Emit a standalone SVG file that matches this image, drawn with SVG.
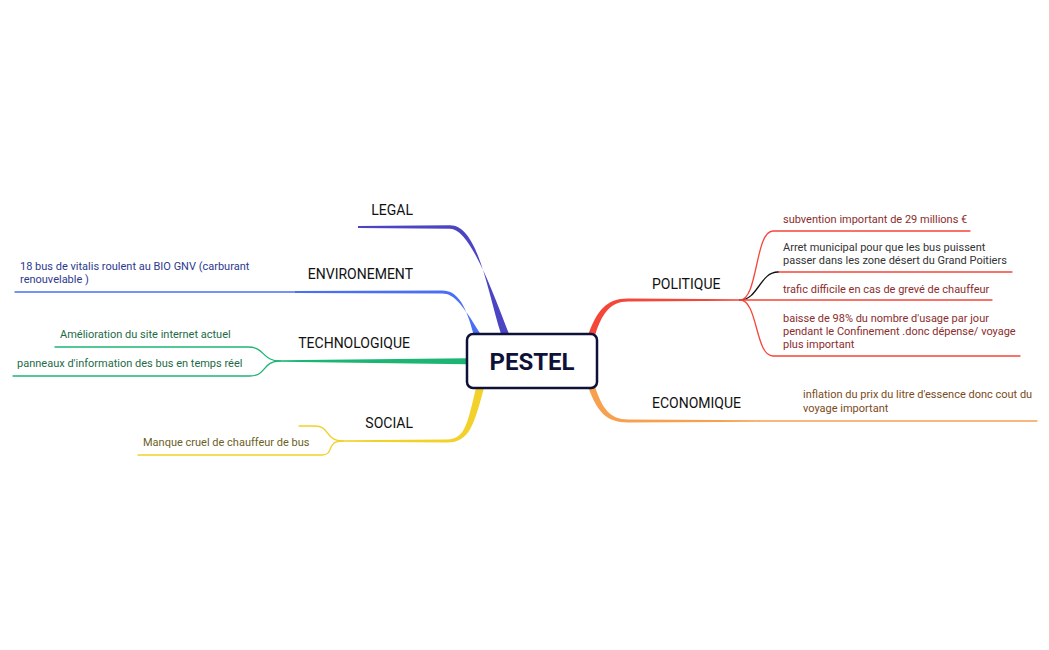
<svg xmlns="http://www.w3.org/2000/svg" width="1049" height="650" viewBox="0 0 1049 650">
<style>
.main{font-family:Roboto,"Liberation Sans",sans-serif;font-size:14px;font-weight:400;fill:#111111}
.sub{font-family:Roboto,"Liberation Sans",sans-serif;font-size:11px}
.thin{fill:none;stroke-width:1.3;stroke-linecap:round}
</style>
<rect width="1049" height="650" fill="#ffffff"/>
<g id="connectors">
  <path d="M501,334 C487,290 478,225.2 450,225.2 L358,226 L358,228 L450,228.8 C470,228.8 492,290 509,334 Z" fill="#4b44c3"/>
  <path d="M473.5,334 C466,306 458,290.5 442,290.5 L295,291.1 L295,292.9 L442,293.5 C455,293.5 463,306 480.5,334 Z" fill="#4a6ef5"/>
  <path class="thin" d="M295,292 L15,292" stroke="#4a6ef5"/>
  <path d="M467,358.3 L280,360.2 L280,361.8 L467,364.2 Z" fill="#1db574"/>
  <path class="thin" d="M280,361 C262,361 265,347 248,347 L55,347" stroke="#1db574"/>
  <path class="thin" d="M280,361 C262,361 267,376 250,376 L13,376" stroke="#1db574"/>
  <path d="M484,388 C474,424 470,442.5 447,442.5 L343,441.8 L343,440.2 L447,439.5 C466,439.5 468,420 476,388 Z" fill="#f2d12b"/>
  <path class="thin" d="M343,441 C325,441 330,426 315,426 L299,426" stroke="#f2d12b"/>
  <path class="thin" d="M343,441 C325,441 335,455 322,455 L138,455" stroke="#f2d12b"/>
  <path d="M588.5,334 C597,311 606,298.5 628,298.5 L740,299.3 L740,300.7 L628,301.5 C610,301.5 602,314 595.5,334 Z" fill="#f5463a"/>
  <path class="thin" d="M740,300 C758,300 755,231 773,231 L970,231" stroke="#f5463a"/>
  <path class="thin" d="M778,272 L1012,272" stroke="#f5463a"/>
  <path class="thin" d="M740,300 C758,300 760,272 778,272" stroke="#111111"/>
  <path class="thin" d="M740,300 L992,300" stroke="#f5463a"/>
  <path class="thin" d="M740,300 C758,300 755,356 773,356 L1020,356" stroke="#f5463a"/>
  <path d="M588.5,388 C597,411 606,422.5 628,422.5 L760,421.8 L760,420.2 L628,419.5 C610,419.5 602,408 595.5,388 Z" fill="#f7a04f"/>
  <path class="thin" d="M760,421 L1037,421" stroke="#f7a04f"/>
</g>
<g id="center">
  <rect x="467" y="334" width="130" height="54" rx="6" fill="#ffffff" stroke="#0f1238" stroke-width="2.5"/>
  <text x="532" y="370" text-anchor="middle" font-family="Roboto,'Liberation Sans',sans-serif" font-size="24" font-weight="700" fill="#0f1238">PESTEL</text>
</g>
<g id="legal"><text class="main" x="413" y="215" text-anchor="end">LEGAL</text></g>
<g id="environement">
  <text class="main" x="413" y="279" text-anchor="end">ENVIRONEMENT</text>
  <text class="sub" fill="#2d3a8f" x="20" y="270">18 bus de vitalis roulent au BIO GNV (carburant</text>
  <text class="sub" fill="#2d3a8f" x="20" y="283">renouvelable )</text>
</g>
<g id="technologique">
  <text class="main" x="410" y="348" text-anchor="end">TECHNOLOGIQUE</text>
  <text class="sub" fill="#1d6b47" x="60" y="338">Amélioration du site internet actuel</text>
  <text class="sub" fill="#1d6b47" x="17" y="367">panneaux d'information des bus en temps réel</text>
</g>
<g id="social">
  <text class="main" x="413" y="428" text-anchor="end">SOCIAL</text>
  <text class="sub" fill="#6b5f1f" x="143" y="446">Manque cruel de chauffeur de bus</text>
</g>
<g id="politique">
  <text class="main" x="652" y="289">POLITIQUE</text>
  <text class="sub" fill="#8b2d2d" x="783" y="223">subvention important de 29 millions €</text>
  <text class="sub" fill="#333333" x="783" y="251">Arret municipal pour que les bus puissent</text>
  <text class="sub" fill="#333333" x="783" y="264">passer dans les zone désert du Grand Poitiers</text>
  <text class="sub" fill="#8b2d2d" x="783" y="293">trafic difficile en cas de grevé de chauffeur</text>
  <text class="sub" fill="#8b2d2d" x="783" y="322">baisse de 98% du nombre d'usage par jour</text>
  <text class="sub" fill="#8b2d2d" x="783" y="335">pendant le Confinement .donc dépense/ voyage</text>
  <text class="sub" fill="#8b2d2d" x="783" y="348">plus important</text>
</g>
<g id="economique">
  <text class="main" x="652" y="408">ECONOMIQUE</text>
  <text class="sub" fill="#7b4b22" x="803" y="398">inflation du prix du litre d'essence donc cout du</text>
  <text class="sub" fill="#7b4b22" x="803" y="412">voyage important</text>
</g>
</svg>
